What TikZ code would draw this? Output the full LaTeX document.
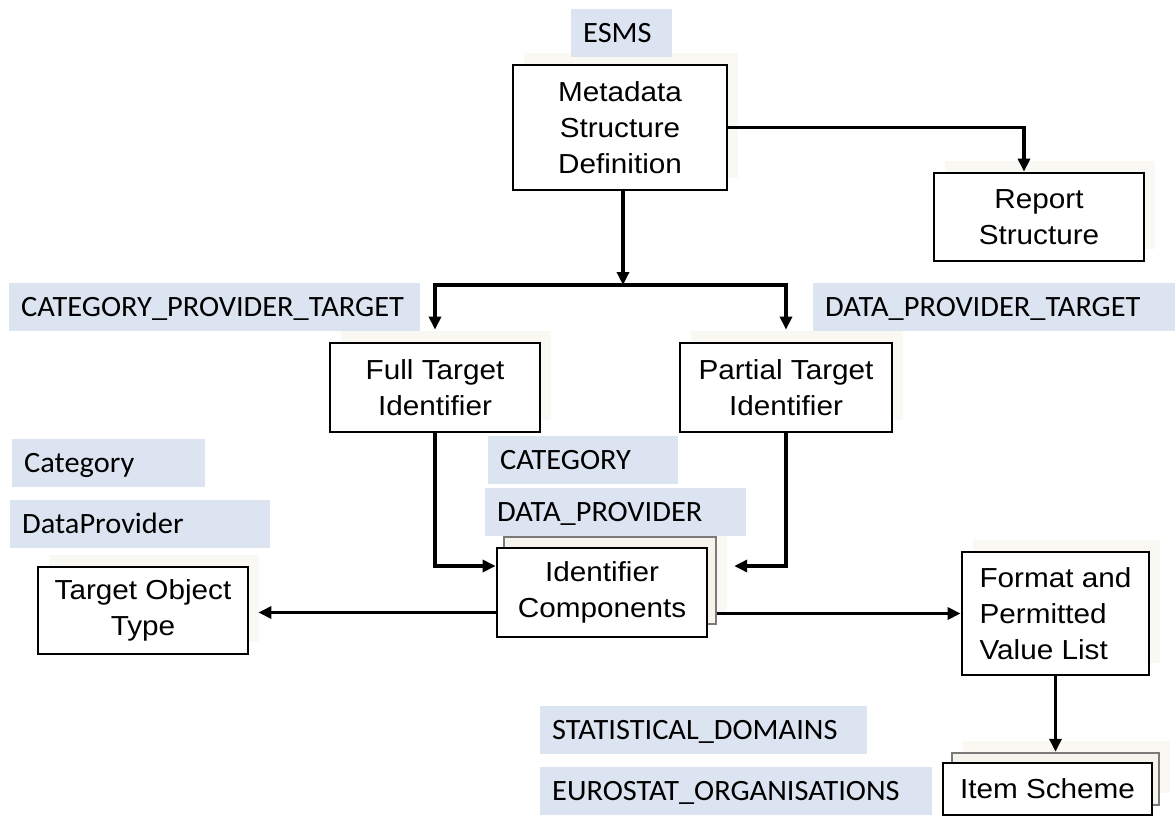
\documentclass[tikz,border=0pt]{standalone}
\usepackage{fontspec}
\newfontfamily\boxfont[FakeStretch=1.08]{Liberation Sans}
\newfontfamily\tagfont[FakeStretch=1.03]{Carlito}
\usetikzlibrary{arrows.meta,shadows}
\definecolor{tagblue}{HTML}{DBE4F0}
\definecolor{shade}{HTML}{F9F8F3}
\definecolor{stackfill}{HTML}{F5F3EC}
\definecolor{stackline}{HTML}{7A7A7A}

\begin{document}
\begin{tikzpicture}[x=1pt,y=-1pt,
  box/.style={draw=black, line width=2.8pt, fill=white, align=center, inner sep=0pt,
    font=\boxfont\fontsize{27.5}{36}\selectfont},
  faint/.style={general shadow={fill=shade, shadow xshift=11pt, shadow yshift=12pt}},
  backbox/.style={draw=stackline, line width=2.4pt, fill=stackfill, inner sep=0pt},
  tag/.style={fill=tagblue, anchor=north west, inner xsep=12pt, inner ysep=0pt,
    align=left, text height=18pt, text depth=0pt, minimum height=48pt,
    font=\tagfont\fontsize{29.5}{34}\selectfont},
  conn/.style={line width=3.5pt, -{Triangle[length=13pt,width=12pt]}},
  bold/.style={conn, line width=4.5pt},
]
\useasboundingbox (0,0) rectangle (1175,816);
\fill[white] (0,0) rectangle (1175,816);

% boxes
\node[box, faint, minimum width=214pt, minimum height=125pt] (msd) at (620,127.5)
  {Metadata\\Structure\\Definition};
\node[box, faint, minimum width=210pt, minimum height=88pt] (rep) at (1039,217)
  {Report\\Structure};
\node[box, faint, minimum width=210pt, minimum height=89pt] (fti) at (435,387.5)
  {Full Target\\Identifier};
\node[box, faint, minimum width=212pt, minimum height=89pt] (pti) at (786,387.5)
  {Partial Target\\Identifier};
\node[backbox, faint, minimum width=212pt, minimum height=87pt] (idfback) at (610,580.5) {};
\node[box, minimum width=210pt, minimum height=89pt] (idf) at (602,592.5)
  {Identifier\\Components};
\node[box, faint, minimum width=210pt, minimum height=87pt] (tot) at (143,610.5)
  {Target Object\\Type};
\node[box, faint, align=left, minimum width=187pt, minimum height=123pt] (fmt) at (1055.5,613.5)
  {Format and\\Permitted\\Value List};
\node[backbox, faint, minimum width=207pt, minimum height=52pt] (itmback) at (1055.5,779) {};
\node[box, minimum width=209pt, minimum height=52pt] (itm) at (1047.5,789)
  {Item Scheme};

% tags
\node[tag, text width=77pt] (esms) at (571,9) {ESMS};
\node[tag, text width=387pt] (cpt) at (9,283) {CATEGORY\_PROVIDER\_TARGET};
\node[tag, text width=338pt] (dpt) at (813,283) {DATA\_PROVIDER\_TARGET};
\node[tag, text width=169pt] (cat) at (12,439) {Category};
\node[tag, text width=236pt] (dprov) at (10,500) {DataProvider};
\node[tag, text width=166pt] (catu) at (488,436) {CATEGORY};
\node[tag, text width=237pt] (dpu) at (485,488) {DATA\_PROVIDER};
\node[tag, text width=303pt] (stat) at (540,706) {STATISTICAL\_DOMAINS};
\node[tag, text width=368pt] (euro) at (540,767) {EUROSTAT\_ORGANISATIONS};

% connectors
\coordinate (split) at (623,285);
\draw[conn] (msd.east) -| ([xshift=-15pt]rep.north);
\draw[conn, shorten >=12pt] (split) -| (fti.north);
\draw[conn, shorten >=12pt] (split) -| (pti.north);
\draw[conn] ([xshift=3pt]msd.south) -- (split);
\draw[bold] (fti.south) |- ([yshift=26.5pt]idf.west);
\draw[bold, shorten >=17pt] (pti.south) |- ([yshift=14.5pt]idfback.east);
\draw[conn, shorten >=9pt] ([yshift=-20pt]idf.west) -- ([yshift=-20pt]idf.west -| tot.east);
\draw[conn] (idfback.east |- fmt.west) -- (fmt.west);
\draw[conn] (fmt.south) -- (itmback.north);
\end{tikzpicture}
\end{document}
